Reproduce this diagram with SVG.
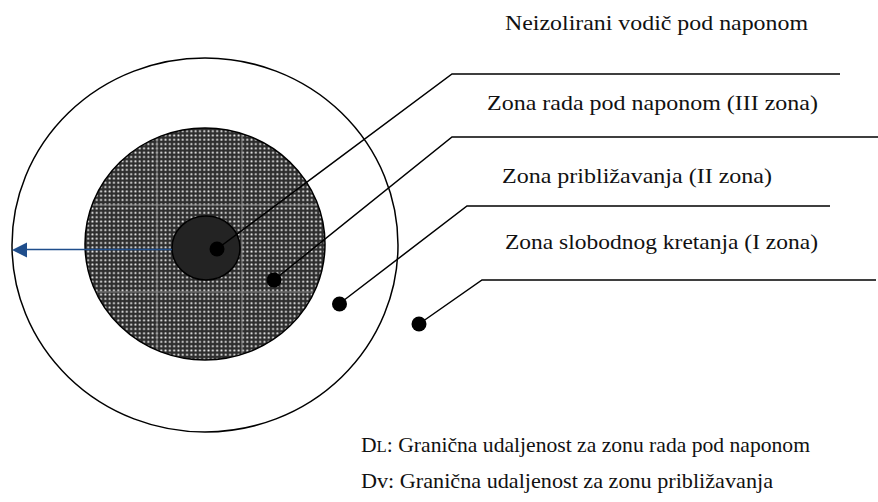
<svg xmlns="http://www.w3.org/2000/svg" width="878" height="502" viewBox="0 0 878 502">
<style>
text{font-family:'Liberation Serif','DejaVu Serif','Times New Roman',Times,serif;font-size:22px;fill:#111}
.ld{fill:none;stroke:#000;stroke-width:1.5}
.dot{fill:#000}
.seam{stroke:#8a8a8a;stroke-width:1}
</style>
<defs>
<pattern id="dots" width="4.3" height="4.3" patternUnits="userSpaceOnUse">
<rect width="4.3" height="4.3" fill="#2e2e2e"/>
<circle cx="2.15" cy="2.15" r="1.3" fill="#969696"/>
<circle cx="2.15" cy="2.15" r="0.65" fill="#f4f4f4"/>
</pattern>
<clipPath id="clip2"><ellipse cx="205" cy="244" rx="120" ry="116"/></clipPath>
</defs>
<rect width="878" height="502" fill="#fff"/>
<g id="zone1">
<ellipse cx="205" cy="245" rx="193" ry="187" fill="#fff" stroke="#000" stroke-width="1.5"/>
</g>
<g id="zone2">
<ellipse cx="205" cy="244" rx="120" ry="116" fill="url(#dots)"/>
<g clip-path="url(#clip2)">
<line class="seam" x1="157" y1="120" x2="157" y2="370"/>
<line class="seam" x1="242" y1="120" x2="242" y2="370"/>
<line class="seam" x1="80" y1="205" x2="330" y2="205"/>
<line class="seam" x1="80" y1="292" x2="330" y2="292"/>
</g>
<ellipse cx="205" cy="244" rx="120" ry="116" fill="none" stroke="#000" stroke-width="1.5"/>
</g>
<g id="zone3">
<ellipse cx="206" cy="248" rx="34" ry="32" fill="#232323" stroke="#000" stroke-width="1.5"/>
</g>
<g id="arrow">
<line x1="172" y1="249.5" x2="26" y2="249.5" stroke="#1f4e8c" stroke-width="1.6"/>
<polygon points="12,250 27,242.5 27,257.5" fill="#1f4e8c"/>
</g>
<g id="connectors">
<polyline class="ld" points="217,249 452,74 840,74"/>
<polyline class="ld" points="274,280 452,137 878,137"/>
<polyline class="ld" points="339,304 467,206 830,206"/>
<polyline class="ld" points="419,324 482,280 876,280"/>
<circle class="dot" cx="217" cy="249" r="7.5"/>
<circle class="dot" cx="274" cy="280" r="7.5"/>
<circle class="dot" cx="339.5" cy="304" r="7.5"/>
<circle class="dot" cx="419" cy="324" r="7.5"/>
</g>
<g id="labels">
<text x="505" y="30" textLength="303" lengthAdjust="spacingAndGlyphs">Neizolirani vodič pod naponom</text>
<text x="487" y="110" textLength="331" lengthAdjust="spacingAndGlyphs">Zona rada pod naponom (III zona)</text>
<text x="502" y="183" textLength="270" lengthAdjust="spacingAndGlyphs">Zona približavanja (II zona)</text>
<text x="505" y="249" textLength="313" lengthAdjust="spacingAndGlyphs">Zona slobodnog kretanja (I zona)</text>
<text x="361" y="452" textLength="449" lengthAdjust="spacingAndGlyphs">D<tspan font-size="17">L</tspan>: Granična udaljenost za zonu rada pod naponom</text>
<text x="361" y="488" textLength="412" lengthAdjust="spacingAndGlyphs">Dv: Granična udaljenost za zonu približavanja</text>
</g>
</svg>
